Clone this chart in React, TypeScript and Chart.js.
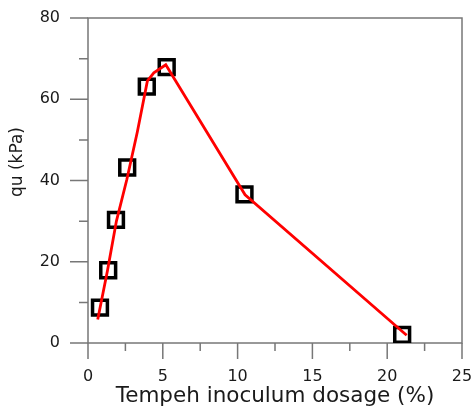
import React, { useEffect, useRef } from "react";
import { Chart, registerables } from "chart.js";

Chart.register(...registerables);

// Measured data (squares)
const dosage = [0.8, 1.35, 1.87, 2.62, 3.93, 5.26, 10.46, 21.0];
const qu = [8.7, 17.9, 30.3, 43.2, 63.1, 67.9, 36.6, 2.0];

// Fitted red curve
const fitDosage = [0.65, 1.3, 1.9, 2.6, 3.3, 3.97, 4.4, 5.2, 10.5, 21.3];
const fitQu = [5.8, 17.8, 30.0, 40.3, 52.0, 64.5, 66.5, 68.5, 36.5, 1.9];

// Axis ticks
const xMajorTicks = [0, 5, 10, 15, 20, 25];
const xMinorTicks = [2.5, 7.5, 12.5, 17.5, 22.5];
const yMajorTicks = [0, 20, 40, 60, 80];
const yMinorTicks = [10, 30, 50, 70];

const xTitle = "Tempeh inoculum dosage (%)";
const yTitle = "qu (kPa)";

const FONT = "'DejaVu Sans', 'Liberation Sans', Arial, sans-serif";

const framePlugin = {
  id: "frameTicks",
  beforeDatasetsDraw(chart: any) {
    const { ctx, chartArea } = chart;
    const { left, right, top, bottom } = chartArea;
    const xs = chart.scales.x;
    const ys = chart.scales.y;
    ctx.save();
    ctx.strokeStyle = "#777777";
    ctx.lineWidth = 1.5;
    ctx.strokeRect(left, top, right - left, bottom - top);
    ctx.beginPath();
    for (const v of yMajorTicks) {
      const p = ys.getPixelForValue(v);
      ctx.moveTo(left - 18, p);
      ctx.lineTo(left, p);
    }
    for (const v of yMinorTicks) {
      const p = ys.getPixelForValue(v);
      ctx.moveTo(left - 9, p);
      ctx.lineTo(left, p);
    }
    for (const v of xMajorTicks) {
      const p = xs.getPixelForValue(v);
      ctx.moveTo(p, bottom);
      ctx.lineTo(p, bottom + 16);
    }
    for (const v of xMinorTicks) {
      const p = xs.getPixelForValue(v);
      ctx.moveTo(p, bottom);
      ctx.lineTo(p, bottom + 8);
    }
    ctx.stroke();
    // y-axis title
    ctx.fillStyle = "#1a1a1a";
    ctx.font = `17px ${FONT}`;
    ctx.textAlign = "center";
    ctx.textBaseline = "middle";
    ctx.translate(18, 162);
    ctx.rotate(-Math.PI / 2);
    ctx.fillText(yTitle, 0, 0);
    ctx.restore();
  },
};

function zeroPad(scale: any) {
  scale.paddingTop = 0;
  scale.paddingBottom = 0;
  scale.paddingLeft = 0;
  scale.paddingRight = 0;
}

export default function App() {
  const ref = useRef<HTMLCanvasElement>(null);
  useEffect(() => {
    document.body.style.margin = "0";
    const canvas = ref.current!;
    const chart = new Chart(canvas, {
      type: "scatter",
      data: {
        datasets: [
          {
            data: fitDosage.map((x, i) => ({ x, y: fitQu[i] })),
            showLine: true,
            borderColor: "#ff0000",
            borderWidth: 2.8,
            pointRadius: 0,
            fill: false,
            order: 0,
          },
          {
            data: dosage.map((x, i) => ({ x, y: qu[i] })),
            showLine: false,
            pointStyle: "rect",
            pointRadius: 10.5,
            pointBorderWidth: 3.5,
            pointBorderColor: "#000000",
            pointBackgroundColor: "rgba(0,0,0,0)",
            order: 1,
          },
        ],
      },
      options: {
        responsive: false,
        animation: false,
        events: [],
        layout: { padding: { top: 18, right: 8, left: 0, bottom: 0 } },
        plugins: {
          legend: { display: false },
          tooltip: { enabled: false },
        },
        scales: {
          x: {
            type: "linear",
            min: 0,
            max: 25,
            grid: { display: false, drawTicks: false },
            border: { display: false },
            ticks: {
              stepSize: 5,
              padding: 24,
              color: "#1a1a1a",
              font: { family: FONT, size: 16 },
            },
            title: {
              display: true,
              text: xTitle,
              color: "#1a1a1a",
              padding: 0,
              font: { family: FONT, size: 21.5, lineHeight: 1 },
            },
            afterFit(scale: any) {
              scale.height = 64;
              zeroPad(scale);
            },
          },
          y: {
            type: "linear",
            min: 0,
            max: 80,
            grid: { display: false, drawTicks: false },
            border: { display: false },
            ticks: {
              stepSize: 20,
              padding: 28,
              color: "#1a1a1a",
              font: { family: FONT, size: 16 },
            },
            afterFit(scale: any) {
              scale.width = 88;
              zeroPad(scale);
            },
          },
        },
      },
      plugins: [framePlugin],
    });
    return () => chart.destroy();
  }, []);
  return (
    <canvas
      ref={ref}
      width={476}
      height={407}
      style={{ display: "block", width: 476, height: 407 }}
    />
  );
}
